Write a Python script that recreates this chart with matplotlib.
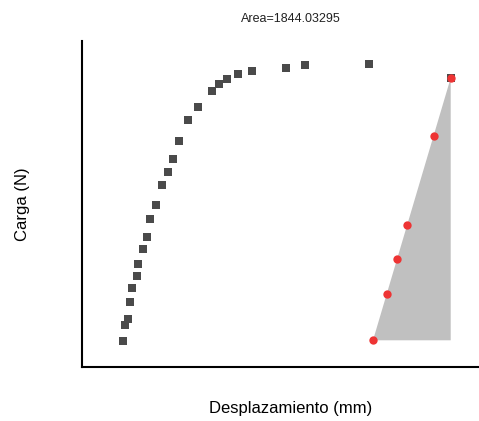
import matplotlib
matplotlib.use('Agg')
import matplotlib.pyplot as plt

plt.rcParams['font.family'] = ['Liberation Sans', 'DejaVu Sans']

# curva carga-desplazamiento (squares)
desp = [2.035, 2.135, 2.30, 2.40, 2.515, 2.735, 2.80, 3.035, 3.235, 3.385,
        3.715, 4.015, 4.30, 4.55, 4.85, 5.30, 5.785, 6.50, 6.865, 7.235,
        7.80, 8.50, 10.20, 11.15, 14.35, 18.45]
carga = [95.2, 152.0, 174.8, 236.4, 284.9, 329.4, 372.9, 426.1, 471.7, 534.7,
         586.4, 659.9, 707.0, 754.0, 818.1, 894.1, 941.2, 997.9, 1024.3, 1043.9,
         1060.7, 1072.6, 1081.3, 1093.2, 1096.9, 1046.2]

# descarga (red points)
desp_d = [14.55, 15.25, 15.75, 16.25, 17.585, 18.435]
carga_d = [96.7, 265.3, 389.9, 515.1, 836.2, 1046.2]

area_txt = 'Area=1844.03295'

fig = plt.figure(figsize=(4.79, 4.21), dpi=100)
ax = fig.add_axes([82/479, 54/421, 396/479, 326/421])

# triangle under the unloading line
tri_x = [desp_d[0], desp_d[-1], desp_d[-1]]
tri_y = [carga_d[0], carga_d[-1], carga_d[0]]
ax.fill(tri_x, tri_y, color='#c0c0c0', lw=0, zorder=1)

ax.scatter(desp, carga, marker='s', s=26, color='#4a4a4a', lw=0, zorder=2)
ax.scatter(desp_d, carga_d, marker='o', s=36, color='#ee3434', lw=0, zorder=3)

ax.set_xlim(0, 19.8)
ax.set_ylim(0, 1180)
ax.set_xticks([])
ax.set_yticks([])
for s in ['top', 'right']:
    ax.spines[s].set_visible(False)
for s in ['left', 'bottom']:
    ax.spines[s].set_linewidth(1.5)
    ax.spines[s].set_color('black')

ax.set_title(area_txt, fontsize=9, x=0.528, pad=14, color='#222222')
ax.set_xlabel('Desplazamiento (mm)', fontsize=12)
ax.set_ylabel('Carga (N)', fontsize=12)
ax.xaxis.set_label_coords(0.528, -0.104)
ax.yaxis.set_label_coords(-0.131, 0.5)

fig.savefig('out.png', dpi=100)
